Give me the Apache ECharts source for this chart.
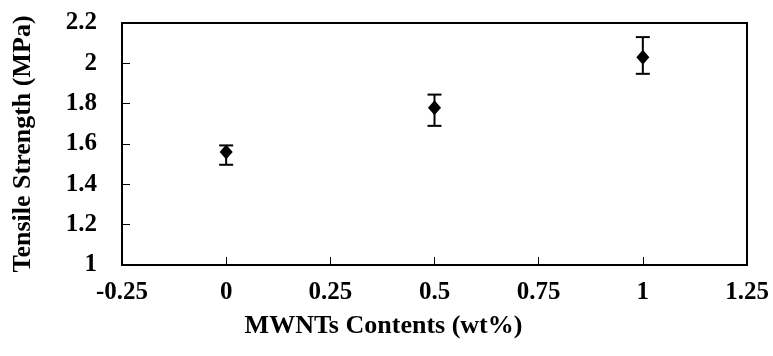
<!DOCTYPE html>
<html>
<head>
<meta charset="utf-8">
<script src="https://cdn.jsdelivr.net/npm/echarts@6/dist/echarts.min.js"></script>
<style>
  html, body { margin: 0; padding: 0; background: #fff; }
  #chart { width: 773px; height: 356px; }
</style>
</head>
<body>
<div id="chart"></div>
<script>
// MWNT content (wt%) vs tensile strength (MPa)
const contents = [0, 0.5, 1];
const strength = [1.56, 1.78, 2.03];
const errLow = [1.497, 1.69, 1.948];
const errHigh = [1.593, 1.845, 2.13];

const font = 'Liberation Serif';
const chart = echarts.init(document.getElementById('chart'));

chart.setOption({
    animation: false,
    grid: { left: 122, right: 26, top: 23, bottom: 91, show: true, borderColor: '#000', borderWidth: 2 },
    xAxis: {
        type: 'value', min: -0.25, max: 1.25, interval: 0.25,
        name: 'MWNTs Contents (wt%)', nameLocation: 'middle', nameGap: 48,
        nameTextStyle: { fontFamily: font, fontWeight: 'bold', fontSize: 26, color: '#000', padding: [0, 102, 0, 0] },
        axisLine: { onZero: false, lineStyle: { color: '#000', width: 2 } },
        axisTick: { inside: true, length: 8, lineStyle: { color: '#000' } },
        axisLabel: { fontFamily: font, fontWeight: 'bold', fontSize: 25, color: '#000', margin: 15 },
        splitLine: { show: false }
    },
    yAxis: {
        type: 'value', min: 1, max: 2.2, interval: 0.2,
        name: 'Tensile Strength (MPa)', nameLocation: 'middle', nameGap: 86,
        nameTextStyle: { fontFamily: font, fontWeight: 'bold', fontSize: 26, color: '#000' },
        axisLine: { show: true, onZero: false, lineStyle: { color: '#000', width: 2 } },
        axisTick: { show: true, inside: true, length: 8, lineStyle: { color: '#000' } },
        axisLabel: { fontFamily: font, fontWeight: 'bold', fontSize: 25, color: '#000', margin: 25 },
        splitLine: { show: false }
    },
    series: [
        {
            type: 'custom',
            data: contents.map((x, i) => [x, errLow[i], errHigh[i]]),
            renderItem: (params, api) => {
                const lo = api.coord([api.value(0), api.value(1)]);
                const hi = api.coord([api.value(0), api.value(2)]);
                const w = 7;
                const style = { stroke: '#000', lineWidth: 2 };
                return {
                    type: 'group',
                    children: [
                        { type: 'line', shape: { x1: lo[0], y1: lo[1], x2: hi[0], y2: hi[1] }, style },
                        { type: 'line', shape: { x1: lo[0] - w, y1: lo[1], x2: lo[0] + w, y2: lo[1] }, style },
                        { type: 'line', shape: { x1: hi[0] - w, y1: hi[1], x2: hi[0] + w, y2: hi[1] }, style }
                    ]
                };
            },
            z: 2
        },
        {
            type: 'scatter',
            data: contents.map((x, i) => [x, strength[i]]),
            symbol: 'diamond',
            symbolSize: [13, 15],
            itemStyle: { color: '#000', opacity: 1 },
            z: 3
        }
    ]
});
</script>
</body>
</html>
